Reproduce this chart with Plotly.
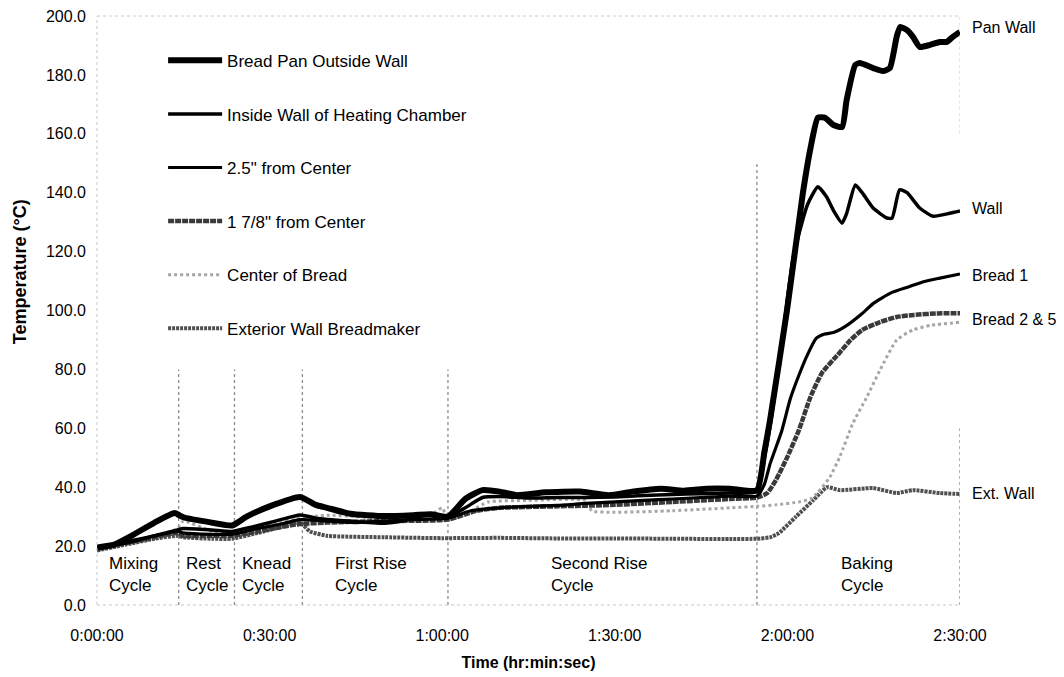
import plotly.graph_objects as go

# ---------------- data (time in minutes, temperature in °C) ----------------
pan_t = [0, 3, 6, 10, 13.5, 14.3, 15, 19, 23.5, 26, 30, 35.3, 38, 40, 44, 50, 55, 58, 61,
         64, 67, 70, 73, 78, 84, 89, 93, 98, 102, 106, 110, 114.7,
         116, 117, 120, 122.7, 124, 125.3, 126.5, 128, 129.5, 130.3, 131.8, 132.6, 134.9,
         136.6, 137.8, 139, 139.6, 140.8, 141.8, 143, 144.8, 146.5, 147.7, 148.8, 150]
pan_v = [19.5, 20.5, 23.5, 28, 31.2, 30.5, 29.8, 28.3, 27, 30, 33.5, 36.7, 34, 33, 31, 30.2, 30.5, 30.8, 30,
         36, 39, 38.5, 37.3, 38.3, 38.5, 37.3, 38.5, 39.5, 38.8, 39.5, 39.5, 39,
         52, 63, 101, 140, 155, 165.5, 165.5, 163, 162.3, 171.5, 183.4, 184, 182.3,
         181.3, 182.3, 193, 196.3, 195.2, 193, 189.5, 190.2, 191.2, 191.2, 193, 194.6]

wall_t = [0, 5, 10, 14, 15, 20, 23.5, 27, 31, 35.3, 38, 44, 50, 53, 57, 61,
          64, 67, 70, 75, 80, 85, 90, 95, 100, 105, 110, 114.7,
          116, 117, 119, 120, 121, 122, 123.5, 125.3, 126.8, 128, 129.5, 130.3, 131.8, 133,
          134.9, 137.3, 138.2, 139.5, 140.8, 143, 145.3, 148.2, 150]
wall_v = [19.5, 21, 23.5, 25.5, 26, 25.5, 25, 26.5, 28.5, 30.6, 29.5, 28.5, 27.8, 28.5, 30.5, 30,
          33, 36.5, 36.8, 36.3, 36.5, 36.5, 36.7, 37.2, 37.5, 37.8, 38, 38.5,
          50, 61, 88, 104, 118, 126, 136, 142, 138.6, 134, 129.7, 133, 142.6, 140,
          134.8, 131.4, 131.4, 141, 140, 134.8, 132, 133, 133.8]

b1_t = [0, 5, 10, 14, 15, 20, 23.5, 28, 32, 35.3, 40, 45, 50, 55, 61,
        65, 70, 75, 80, 85, 90, 95, 100, 105, 110, 114.7,
        116, 117, 119, 120.5, 122, 123.5, 125, 126.5, 128, 130, 133, 135, 138, 141, 143.5, 146.5, 150]
b1_v = [19.5, 21.5, 23.5, 25, 24.5, 24, 24, 26, 27.5, 29, 28.5, 28, 28.5, 29, 29.5,
        32, 33, 33.5, 33.8, 34.5, 35, 35.5, 36, 36.5, 37, 37,
        41, 48, 59, 70, 78, 85, 90.5, 92, 92.5, 94.5, 99, 102.5, 106, 108, 109.7, 111, 112.4]

b2_t = [0, 5, 10, 14, 15, 20, 23.5, 28, 32, 35.3, 40, 50, 61,
        66, 70, 80, 90, 100, 110, 114.7,
        116.5, 118, 120, 122, 124, 126, 129, 131, 133, 136, 139, 142, 146, 150]
b2_v = [19, 21, 23, 24.5, 23.5, 23.5, 23.5, 25, 26.5, 27.5, 28, 28.5, 29,
        32, 33, 33.5, 34, 35, 36, 36.5,
        38, 42.4, 50.3, 59.4, 70.6, 78.8, 85.5, 90, 93.4, 96, 97.8, 98.5, 99, 99.1]

ctr_t = [0, 5, 10, 14, 15, 20, 23.5, 28, 32, 35.3, 40, 45, 50, 55, 58, 60, 61,
         65, 68, 75, 85, 86, 90, 100, 110, 114.7, 118, 122, 124,
         125.2, 127.4, 129.1, 131.4, 133.8, 136.1, 139, 141.8, 145, 150]
ctr_v = [19.5, 21, 23.5, 26, 28.5, 25, 24, 26, 28, 29.5, 30.5, 30, 29.5, 29.8, 30.5, 33, 29,
         32, 35, 35.5, 35.5, 32, 31.5, 32, 33, 33.5, 34, 35, 36,
         38, 43.5, 50.3, 61.8, 70.6, 79.8, 90, 93.4, 95, 96]

ext_t = [0, 5, 10, 14, 15, 20, 23.5, 28, 32, 35.3, 37, 40, 50, 60, 70, 80, 90, 100, 110, 114.7,
         117, 118.5, 121.5, 124.5, 126.9, 129.1, 134.9, 139, 141.8, 146.5, 150]
ext_v = [18.5, 20.5, 22.5, 23.5, 23, 22.5, 22.5, 24.5, 26.5, 28, 25, 23.5, 23, 22.7, 22.8, 22.6, 22.6, 22.5, 22.4, 22.5,
         23, 24.4, 30, 35.6, 40, 39, 39.7, 38, 39, 38, 37.7]

series_names = ["Bread Pan Outside Wall", "Inside Wall of Heating Chamber", "2.5\" from Center",
                "1 7/8\" from Center", "Center of Bread", "Exterior Wall Breadmaker"]
end_labels = ["Pan Wall", "Wall", "Bread 1", "Bread 2 & 5", "Ext. Wall"]
end_label_y = [196, 134.5, 112, 96.8, 37.7]

cycle_bounds = [14.2, 23.9, 35.7, 61.0, 114.7]
cycle_line_tops = [80, 80, 80, 80, 150]
cycle_names = ["Mixing<br>Cycle", "Rest<br>Cycle", "Knead<br>Cycle", "First Rise<br>Cycle",
               "Second Rise<br>Cycle", "Baking<br>Cycle"]
cycle_label_x = [1.7, 15.2, 24.8, 41.0, 78.5, 129.0]

tick_vals = [0, 30, 60, 90, 120, 150]
tick_text = ["0:00:00", "0:30:00", "1:00:00", "1:30:00", "2:00:00", "2:30:00"]

# ---------------- figure ----------------
FONT = "Liberation Sans, Arial, sans-serif"
styles = [
    dict(color="#000000", width=6),
    dict(color="#000000", width=3.5),
    dict(color="#000000", width=3.2),
    dict(color="#3a3a3a", width=4.5, dash="6px,1px"),
    dict(color="#a6a6a6", width=3, dash="dot"),
    dict(color="#505050", width=4, dash="3px,1px"),
]
data_t = [pan_t, wall_t, b1_t, b2_t, ctr_t, ext_t]
data_v = [pan_v, wall_v, b1_v, b2_v, ctr_v, ext_v]

fig = go.Figure()
order = [5, 4, 3, 2, 1, 0]
for i in order:
    st = dict(styles[i])
    st.update(shape="spline", smoothing=0.5)
    fig.add_trace(go.Scatter(
        x=data_t[i], y=data_v[i], mode="lines", name=series_names[i],
        line=st, legendgroup=str(i), legendrank=i + 1,
    ))

shapes = []
for xb, top in zip(cycle_bounds, cycle_line_tops):
    shapes.append(dict(type="line", xref="x", yref="y", x0=xb, x1=xb, y0=0, y1=top,
                       line=dict(color="#8c8c8c", width=1.3, dash="dot"), layer="below"))
frame = dict(color="#c8c8c8", width=1, dash="dot")
shapes.append(dict(type="line", xref="paper", yref="paper", x0=0, x1=0, y0=0, y1=1, line=frame))
shapes.append(dict(type="line", xref="paper", yref="paper", x0=0, x1=1, y0=0, y1=0, line=frame))
shapes.append(dict(type="line", xref="paper", yref="paper", x0=0, x1=1, y0=1, y1=1, line=frame))
shapes.append(dict(type="line", xref="x", yref="y", x0=150, x1=150, y0=0, y1=60,
                   line=dict(color="#8c8c8c", width=1.3, dash="dot")))
shapes.append(dict(type="line", xref="x", yref="y", x0=150, x1=150, y0=160, y1=200, line=frame))

annotations = []
for txt, xx in zip(cycle_names, cycle_label_x):
    annotations.append(dict(x=xx, y=10.5, xref="x", yref="y", text=txt, showarrow=False,
                            xanchor="left", yanchor="middle", align="left",
                            font=dict(family=FONT, size=17, color="#000")))
for txt, yy in zip(end_labels, end_label_y):
    annotations.append(dict(x=150, y=yy, xref="x", yref="y", text=txt, showarrow=False,
                            xanchor="left", yanchor="middle", xshift=10,
                            font=dict(family=FONT, size=16, color="#000")))
# y-axis title (placed slightly above the axis centre, as in the original)
annotations.append(dict(x=-0.0892, y=0.565, xref="paper", yref="paper",
                        text="<b>Temperature (°C)</b>", textangle=-90, showarrow=False,
                        xanchor="center", yanchor="middle",
                        font=dict(family=FONT, size=18, color="#000")))

# page body has an 8px margin, so the figure is sized/offset to compensate
fig.update_layout(
    width=1056, height=669,
    margin=dict(l=89, r=104, t=8, b=72),
    paper_bgcolor="white", plot_bgcolor="white",
    font=dict(family=FONT, size=16, color="#000"),
    shapes=shapes, annotations=annotations,
    showlegend=True,
    legend=dict(x=0.0766, y=0.9546, xanchor="left", yanchor="top",
                traceorder="grouped", tracegroupgap=28.5, itemwidth=54,
                bgcolor="rgba(255,255,255,0)", borderwidth=0,
                font=dict(family=FONT, size=17, color="#000")),
    xaxis=dict(range=[0, 150], tickvals=tick_vals, ticktext=tick_text, showgrid=False,
               zeroline=False, showline=False, ticks="", ticklabelstandoff=19,
               ticklabeloverflow="allow", automargin=False,
               title=dict(text="<b>Time (hr:min:sec)</b>", font=dict(size=16), standoff=13)),
    yaxis=dict(range=[0, 200], tickvals=[0, 20, 40, 60, 80, 100, 120, 140, 160, 180, 200],
               tickformat=".1f", showgrid=False, zeroline=False, showline=False, ticks="",
               ticklabelstandoff=10, ticklabeloverflow="allow", automargin=False),
)

fig.write_html("out.html")
